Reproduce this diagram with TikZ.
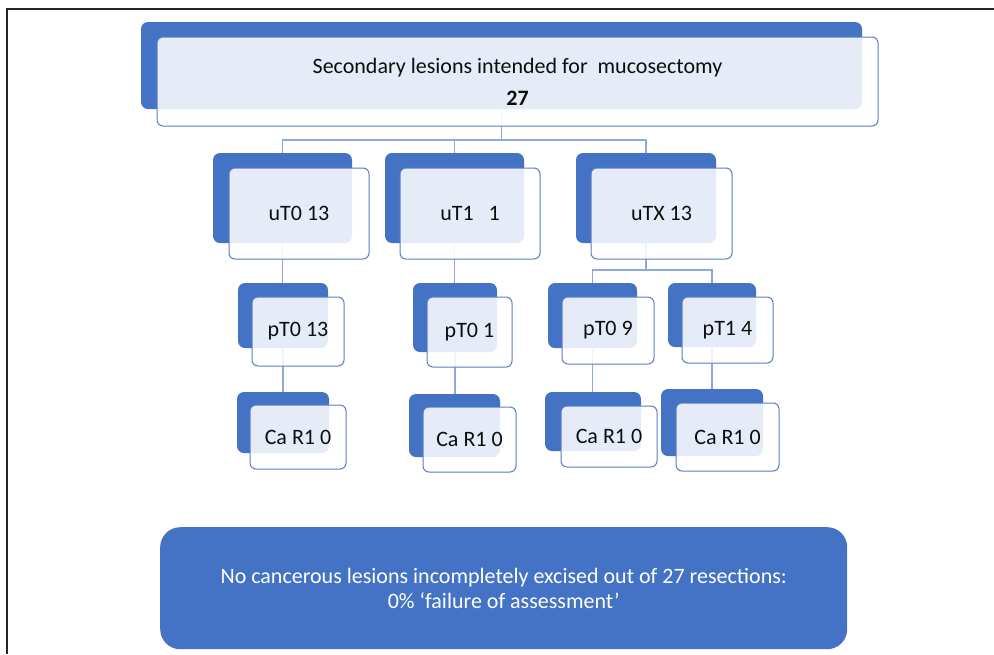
\documentclass[tikz,border=0pt]{standalone}
\usepackage{fontspec}
\setmainfont{Carlito}
\definecolor{myblue}{HTML}{4472C4}
\definecolor{edgeblue}{HTML}{5A7EC2}
\definecolor{connc}{HTML}{8EA9DB}
\definecolor{txt}{HTML}{0D0D0D}
\begin{document}
\begin{tikzpicture}[x=1pt,y=-1pt,
  back/.style={fill=myblue, rounded corners=7pt, anchor=north west, inner sep=0pt, outer sep=0pt},
  front/.style={draw=edgeblue, line width=1pt, fill=white, fill opacity=0.87, text opacity=1, rounded corners=6pt, anchor=north west, inner sep=0pt, outer sep=0pt, align=center, text=txt, font=\fontsize{22}{32}\selectfont},
  conn/.style={draw=connc, line width=1.1pt},
  notebox/.style={fill=myblue, rounded corners=20pt, anchor=north west, inner sep=0pt, align=center, text=white, font=\fontsize{22}{25}\selectfont}]
\useasboundingbox (0,0) rectangle (994,654);
\draw[line width=1.5pt, black!85] (994,9) -- (7,9) -- (7,654);

% back plates
\node[back, minimum width=721pt, minimum height=87pt] (topB) at (141,22) {};
\node[back, minimum width=139pt, minimum height=90pt] (u0B) at (213,153) {};
\node[back, minimum width=139pt, minimum height=90pt] (u1B) at (385,153) {};
\node[back, minimum width=140pt, minimum height=90pt] (uxB) at (576,153) {};
\node[back, minimum width=90pt, minimum height=65pt] (p0B) at (238,283) {};
\node[back, minimum width=84pt, minimum height=69pt] (p1B) at (413,283) {};
\node[back, minimum width=89pt, minimum height=65pt] (p9B) at (548,283) {};
\node[back, minimum width=88pt, minimum height=64pt] (p4B) at (668,283) {};
\node[back, minimum width=92pt, minimum height=61pt] (c0B) at (237,392) {};
\node[back, minimum width=91pt, minimum height=63pt] (c1B) at (409,394) {};
\node[back, minimum width=96pt, minimum height=59pt] (c9B) at (545,392) {};
\node[back, minimum width=102pt, minimum height=67pt] (c4B) at (661,389) {};

% connectors
\coordinate (bus0) at (501,140);
\coordinate (bus1) at (646,270);
\draw[conn] (topB.south) -- (topB.south |- bus0) -| (u0B.north);
\draw[conn] (topB.south |- bus0) -| (u1B.north);
\draw[conn] (topB.south |- bus0) -| (uxB.north);
\draw[conn] (u0B.south) -- (u0B.south |- p0B.north);
\draw[conn] (u1B.south) -- (u1B.south |- p1B.north);
\draw[conn] (uxB.south) -- (uxB.south |- bus1) -| (p9B.north);
\draw[conn] (uxB.south |- bus1) -| (p4B.north);
\draw[conn] (p0B.south) -- (p0B.south |- c0B.north);
\draw[conn] (p1B.south) -- (p1B.south |- c1B.north);
\draw[conn] (p9B.south) -- (p9B.south |- c9B.north);
\draw[conn] (p4B.south) -- (p4B.south |- c4B.north);

% front cards
\node[front, minimum width=721pt, minimum height=89pt] (topF) at (157,37) {Secondary lesions intended for\ \ mucosectomy\\ \textbf{27}};
\node[front, minimum width=140pt, minimum height=91pt] (u0F) at (229,168) {uT0 13};
\node[front, minimum width=140pt, minimum height=91pt] (u1F) at (400,168) {uT1\ \ \ 1};
\node[front, minimum width=141pt, minimum height=91pt] (uxF) at (591,168) {uTX 13};
\node[front, minimum width=92pt, minimum height=69pt] (p0F) at (252,297) {pT0 13};
\node[front, minimum width=85pt, minimum height=70pt] (p1F) at (427,297) {pT0 1};
\node[front, minimum width=92pt, minimum height=67pt] (p9F) at (562,297) {pT0 9};
\node[front, minimum width=91pt, minimum height=66pt] (p4F) at (682,297) {pT1 4};
\node[front, minimum width=96pt, minimum height=64pt] (c0F) at (250,405) {Ca R1 0};
\node[front, minimum width=93pt, minimum height=65pt] (c1F) at (423,407) {Ca R1 0};
\node[front, minimum width=96pt, minimum height=61pt] (c9F) at (561,406) {Ca R1 0};
\node[front, minimum width=103pt, minimum height=68pt] (c4F) at (676,403) {Ca R1 0};

% conclusion
\node[notebox, minimum width=687pt, minimum height=122pt] (note) at (160,527) {No cancerous lesions incompletely excised out of 27 resections:\\ 0\% ‘failure of assessment’};
\end{tikzpicture}
\end{document}
